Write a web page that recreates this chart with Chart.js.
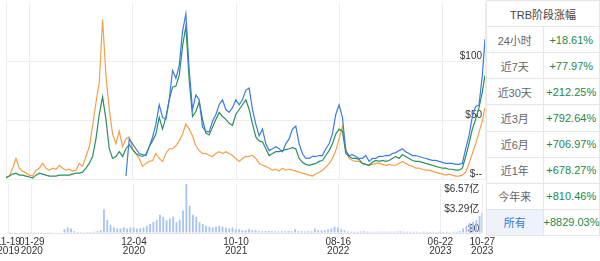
<!DOCTYPE html>
<html>
<head>
<meta charset="utf-8">
<script src="https://cdn.jsdelivr.net/npm/chart.js@4"></script>
<style>
  body { margin: 0; width: 600px; height: 261px; overflow: hidden; background: #fff; position: relative;
         font-family: "Liberation Sans", "Noto Sans CJK SC", sans-serif; }
  #priceChart { position: absolute; left: 0; top: 0; }
  #volChart { position: absolute; left: -8px; top: 181px; }
  #stats { position: absolute; left: 486px; top: 0; width: 114px; height: 236px; border-collapse: collapse;
           background: #fff; font-size: 11px; z-index: 2; table-layout: fixed; }
  #stats td { border: 1px solid #e6e6e6; text-align: center; padding: 0; height: 25px; }
  #stats td.head { color: #444; }
  #stats td.per { color: #666; width: 55px; }
  #stats td.chg { color: #23874b; }
  #stats tr.all td.per { background: #edf2fb; color: #3a75d0; }
</style>
</head>
<body>
<canvas id="priceChart" width="486" height="182"></canvas>
<canvas id="volChart" width="507" height="80"></canvas>
<table id="stats"></table>
<script>
// eixo x: dias desde 2019-11-19
const tickDays = [0, 71, 381, 691, 1001, 1311, 1438];
const tickLabels = [['11-19', '2019'], ['01-29', '2020'], ['12-04', '2020'], ['10-10', '2021'],
                    ['08-16', '2022'], ['06-22', '2023'], ['10-27', '2023']];
const days = Array.from({ length: 144 }, (_, i) => i * 10).concat([1438]);

// preços (USD)
const blueLine = Array(36).fill(null).concat([
  2.5, 34.2, 30, 25.8, 21.7, 20.8, 20, 27.5, 35.8, 46.7,
  63.3, 52.5, 50.8, 67.5, 92.5, 85.8, 96.7, 125.8, 140.8, 92.5,
  59.2, 71.7, 67.5, 44.2, 40.8, 40, 49.2, 55, 63.3, 67.5,
  59.2, 56.7, 60.8, 67.5, 63.3, 67.5, 75.8, 77.5, 59.2, 46.7,
  36.7, 42.5, 30, 24.2, 25.8, 27.5, 25.8, 23.3, 30, 34.2,
  42.5, 45, 30, 21.7, 17.5, 17.5, 19.2, 19.2, 20, 20,
  25.8, 30, 38.3, 55, 63.3, 52.5, 24.2, 20, 20.8, 19.2,
  17.5, 17.5, 20, 15, 17.5, 17.5, 19.2, 19.2, 20, 20,
  21.7, 22.5, 24.2, 25.8, 23.3, 21.7, 20, 20, 19.2, 18.3,
  17.5, 16.7, 15.8, 15.8, 15, 14.2, 13.3, 13.3, 13.3, 12.5,
  12.5, 13.3, 25.8, 36.7, 53.3, 61.7, 63.3, 88.3, 119.2
]);
const greenLine = [
  0.8, 2.5, 4.2, 5, 3.3, 3.3, 2.5, 1.7, 0.8, 3.3,
  5, 4.2, 3.3, 2.5, 2.5, 2.5, 3.3, 3.3, 3.3, 3.3,
  4.2, 5, 5, 5.8, 9.2, 13.3, 19.2, 34.2, 55, 70,
  50.8, 25.8, 17.5, 19.2, 23.3, 19.2, 25.8, 29.2, 25, 21.7,
  20, 19.2, 20.8, 27.5, 32.5, 38.3, 52.5, 42.5, 52.5, 67.5,
  78.3, 79.2, 88.3, 113.3, 130, 84.2, 53.3, 57.5, 65.8, 50.8,
  39.2, 37.5, 44.2, 50.8, 56.7, 53.3, 50.8, 47.5, 45.8, 55,
  59.2, 63.3, 67.5, 59.2, 46.7, 35.8, 32.5, 31.7, 25.8, 20,
  21.7, 23.3, 23.3, 24.2, 25, 25.8, 26.7, 25.8, 17.5, 14.2,
  12.5, 11.7, 12.5, 13.3, 15, 15.8, 20, 24.2, 30, 38.3,
  42.5, 40.8, 21.7, 19.2, 17.5, 17.5, 16.7, 13.3, 12.5, 11.7,
  14.2, 15.8, 15, 15.8, 15, 15.8, 17.5, 19.2, 17.5, 20.8,
  19.2, 17.5, 15.8, 15, 15, 14.2, 13.3, 12.5, 11.7, 10.8,
  10, 9.2, 9.2, 8.3, 8.3, 7.5, 7.5, 9.2, 19.2, 30,
  42.5, 50.8, 60.8, 74.2, 88.3
];
const orangeLine = [
  1.7, 2.5, 9.2, 17.5, 9.2, 6.7, 5, 3.3, 2.5, 7.5,
  9.2, 13.3, 9.2, 7.5, 9.2, 8.3, 11.7, 9.2, 7.5, 8.3,
  6.7, 7.5, 13.3, 10.8, 19.2, 27.5, 45, 65, 82, 136,
  88.3, 59.2, 38.3, 30, 40.8, 27.5, 34.2, 35.8, 25.8, 21.7,
  17.5, 10.8, 13.3, 15, 15.8, 21.7, 17.5, 15, 21.7, 25.8,
  25.8, 28.3, 32.5, 38.3, 46.7, 42.5, 36.7, 28.3, 24.2, 21.7,
  21.7, 20, 19.2, 21.7, 23.3, 21.7, 23.3, 21.7, 20, 17.5,
  15, 17.5, 19.2, 19.2, 20, 17.5, 13.3, 11.7, 10.8, 9.2,
  7.5, 8.3, 6.7, 9.2, 7.5, 8.3, 7.5, 6.7, 5.8, 5,
  4.2, 3.3, 2.5, 4.2, 5.8, 7.5, 10, 13.3, 17.5, 24.2,
  34.2, 45, 25.8, 17.5, 15.8, 15, 15, 13.3, 12.5, 11.7,
  12.5, 13.3, 13.3, 12.5, 11.7, 12.5, 11.7, 11.7, 13.3, 15,
  13.3, 11.7, 10.8, 9.2, 9.2, 8.3, 7.5, 7.5, 6.7, 5.8,
  5, 4.2, 3.3, 4.2, 3.3, 2.5, 2.5, 3.3, 5.8, 13.3,
  21.7, 30, 40, 49.2, 60.8
];
// volume (亿美元)
const volume = [
  0.05, 0.05, 0.06, 0.08, 0.06, 0.05, 0.05, 0.04, 0.05, 0.06,
  0.06, 0.07, 0.06, 0.06, 0.07, 0.08, 0.1, 0.6, 0.9, 0.75,
  0.3, 0.15, 0.15, 0.12, 0.15, 0.18, 0.2, 0.3, 0.45, 3.9,
  2.1, 1.35, 0.9, 0.75, 0.75, 0.9, 0.75, 0.9, 0.9, 0.75,
  0.75, 0.9, 1.2, 1.5, 1.8, 2.1, 3.0, 2.7, 2.1, 2.4,
  2.7, 1.8, 2.2, 3.7, 8.1, 4.5, 3.0, 2.7, 1.8, 1.5,
  1.2, 1.05, 0.9, 1.05, 1.2, 1.05, 0.9, 0.75, 0.9, 0.6,
  0.6, 0.45, 0.45, 0.6, 0.45, 0.45, 0.3, 0.3, 0.3, 0.35,
  0.3, 0.3, 0.25, 0.3, 0.3, 0.35, 0.3, 0.6, 0.3, 0.3,
  0.25, 0.3, 0.3, 0.75, 0.45, 0.45, 0.45, 0.6, 0.75, 1.05,
  0.9, 0.6, 0.45, 0.25, 0.22, 0.2, 0.22, 0.25, 0.3, 0.22,
  0.2, 0.22, 0.2, 0.22, 0.25, 0.2, 0.22, 0.2, 0.25, 0.3,
  0.22, 0.2, 0.2, 0.22, 0.2, 0.18, 0.2, 0.2, 0.18, 0.2,
  0.18, 0.2, 0.18, 0.2, 0.18, 0.2, 0.22, 0.3, 0.75, 1.2,
  1.65, 1.8, 2.1, 2.8, 3.3
];
const priceTicks = [0, 50, 100];
const volTicks = [0, 3.285, 6.57];
const volTickLabels = ['$0', '$3.29亿', '$6.57亿'];

const periods = ['24小时', '近7天', '近30天', '近3月', '近6月', '近1年', '今年来', '所有'];
const changes = ['+18.61%', '+77.97%', '+212.25%', '+792.64%', '+706.97%', '+678.27%', '+810.46%', '+8829.03%'];

const fontFamily = '"Liberation Sans", "Noto Sans CJK SC", sans-serif';
const gridColor = '#ededed';

function pts(values) {
  return days.map((d, i) => ({ x: d, y: values[i] }));
}

function xAxis(showLabels) {
  return {
    type: 'linear', min: 0, max: 1438, offset: false,
    afterBuildTicks: axis => { axis.ticks = tickDays.map(v => ({ value: v })); },
    grid: { color: gridColor, drawTicks: false, offset: false },
    border: { display: false },
    ticks: {
      display: showLabels, autoSkip: false, maxRotation: 0, padding: 4,
      color: '#333', font: { size: 10, family: fontFamily, lineHeight: 0.95 },
      callback: (v, i) => tickLabels[i]
    }
  };
}

// eixo y à direita, rótulos dentro da área do gráfico
function yAxis(min, max, values, labelOffset, fmt, gridFn) {
  return {
    position: 'right', min: min, max: max,
    afterBuildTicks: axis => { axis.ticks = values.map(v => ({ value: v })); },
    afterFit: axis => { axis.width = 0; },
    grid: { color: gridFn, drawTicks: false },
    border: { display: false },
    ticks: {
      mirror: true, padding: -3, labelOffset: labelOffset, color: '#333',
      font: { size: 10, family: fontFamily }, callback: fmt
    }
  };
}

function lineSet(values, color) {
  return { data: pts(values), borderColor: color, borderWidth: 1.2, pointRadius: 0, tension: 0 };
}

new Chart(document.getElementById('priceChart'), {
  type: 'line',
  data: {
    datasets: [
      lineSet(blueLine, '#3b7ddd'),
      lineSet(greenLine, '#2b8f60'),
      lineSet(orangeLine, '#f3a04b')
    ]
  },
  options: {
    responsive: false, animation: false, devicePixelRatio: 1,
    layout: { autoPadding: false, padding: { left: 6, right: 1, top: 0, bottom: 1 } },
    plugins: { legend: { display: false }, tooltip: { enabled: false } },
    scales: {
      x: xAxis(false),
      y: yAxis(0, 150, priceTicks, -5, v => v === 0 ? '$--' : '$' + v, gridColor)
    }
  }
});

new Chart(document.getElementById('volChart'), {
  type: 'bar',
  data: {
    datasets: [{
      data: pts(volume), backgroundColor: '#a9c4f0', borderWidth: 0,
      barPercentage: 0.7, categoryPercentage: 1
    }]
  },
  options: {
    responsive: false, animation: false, devicePixelRatio: 1,
    layout: { autoPadding: false, padding: { left: 14, right: 14, top: 1, bottom: 1 } },
    plugins: { legend: { display: false }, tooltip: { enabled: false } },
    scales: {
      x: xAxis(true),
      y: yAxis(0, 8.1, volTicks, -4, (v, i) => volTickLabels[i],
               ctx => ctx.tick && ctx.tick.value === 0 ? '#e3e3e3' : 'rgba(0,0,0,0)')
    }
  }
});

// tabela de variação
const stats = document.getElementById('stats');
let html = '<tr><td class="head" colspan="2">TRB阶段涨幅</td></tr>';
periods.forEach((p, i) => {
  const cls = i === periods.length - 1 ? ' class="all"' : '';
  html += '<tr' + cls + '><td class="per">' + p + '</td><td class="chg">' + changes[i] + '</td></tr>';
});
stats.innerHTML = html;
</script>
</body>
</html>
